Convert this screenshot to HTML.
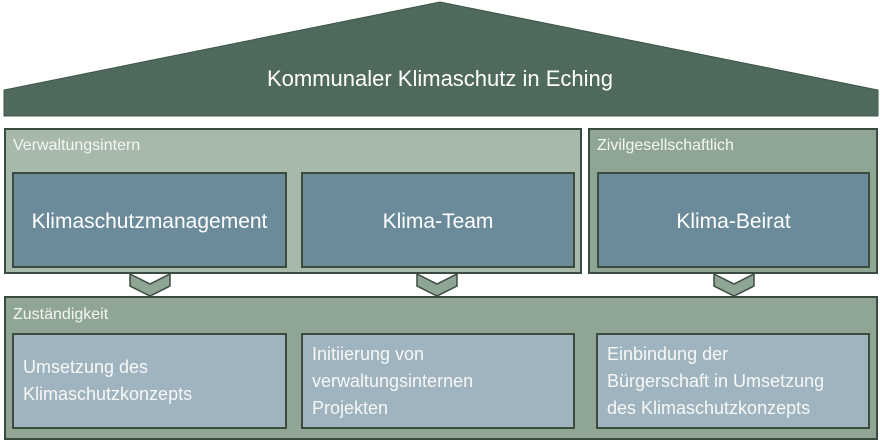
<!DOCTYPE html>
<html><head><meta charset="utf-8"><style>
body{margin:0;width:880px;height:444px;background:#fff;position:relative;overflow:hidden;font-family:"Liberation Sans",sans-serif;color:#fff}
.b{position:absolute;box-sizing:border-box;border:2px solid #3b4b40}
.lbl{position:absolute;font-size:16px;color:#f4f6f4}
.big{display:flex;align-items:center;justify-content:center;font-size:21px;background:#6b8b9b;padding-top:4px}
.sm{background:#9fb4be;font-size:18px;line-height:27px;padding:0 0 0 9px;color:#f6f8f8;display:flex;align-items:center}
</style></head><body>
<svg width="880" height="444" style="position:absolute;left:0;top:0">
<polygon points="4,116 4,90 440,2 878,90 878,116" fill="#4f6a5c" stroke="#3e5548" stroke-width="1"/>
<g fill="#8fa695" stroke="#3b4b40" stroke-width="1.5">
<polygon points="130,274 150,284 170,274 170,286 150,296 130,286"/>
<polygon points="417,274 437,284 457,274 457,286 437,296 417,286"/>
<polygon points="714,274 734,284 754,274 754,286 734,296 714,286"/>
</g>
</svg>
<div style="position:absolute;left:0;width:880px;top:66px;text-align:center;font-size:22px">Kommunaler Klimaschutz in Eching</div>
<div class="b" style="left:4px;top:128px;width:578px;height:146px;background:#a7b9ab"></div>
<div class="lbl" style="left:13px;top:137px">Verwaltungsintern</div>
<div class="b" style="left:588px;top:128px;width:290px;height:146px;background:#8fa695"></div>
<div class="lbl" style="left:597px;top:137px">Zivilgesellschaftlich</div>
<div class="b big" style="left:12px;top:172px;width:275px;height:96px">Klimaschutzmanagement</div>
<div class="b big" style="left:301px;top:172px;width:274px;height:96px">Klima-Team</div>
<div class="b big" style="left:597px;top:172px;width:273px;height:96px">Klima-Beirat</div>
<div class="b" style="left:4px;top:296px;width:874px;height:144px;background:#8fa695"></div>
<div class="lbl" style="left:13px;top:306px">Zuständigkeit</div>
<div class="b sm" style="left:12px;top:333px;width:275px;height:96px"><div>Umsetzung des<br>Klimaschutzkonzepts</div></div>
<div class="b sm" style="left:301px;top:333px;width:274px;height:96px"><div>Initiierung von<br>verwaltungsinternen<br>Projekten</div></div>
<div class="b sm" style="left:596px;top:333px;width:274px;height:96px"><div>Einbindung der<br>Bürgerschaft in Umsetzung<br>des Klimaschutzkonzepts</div></div>
</body></html>
